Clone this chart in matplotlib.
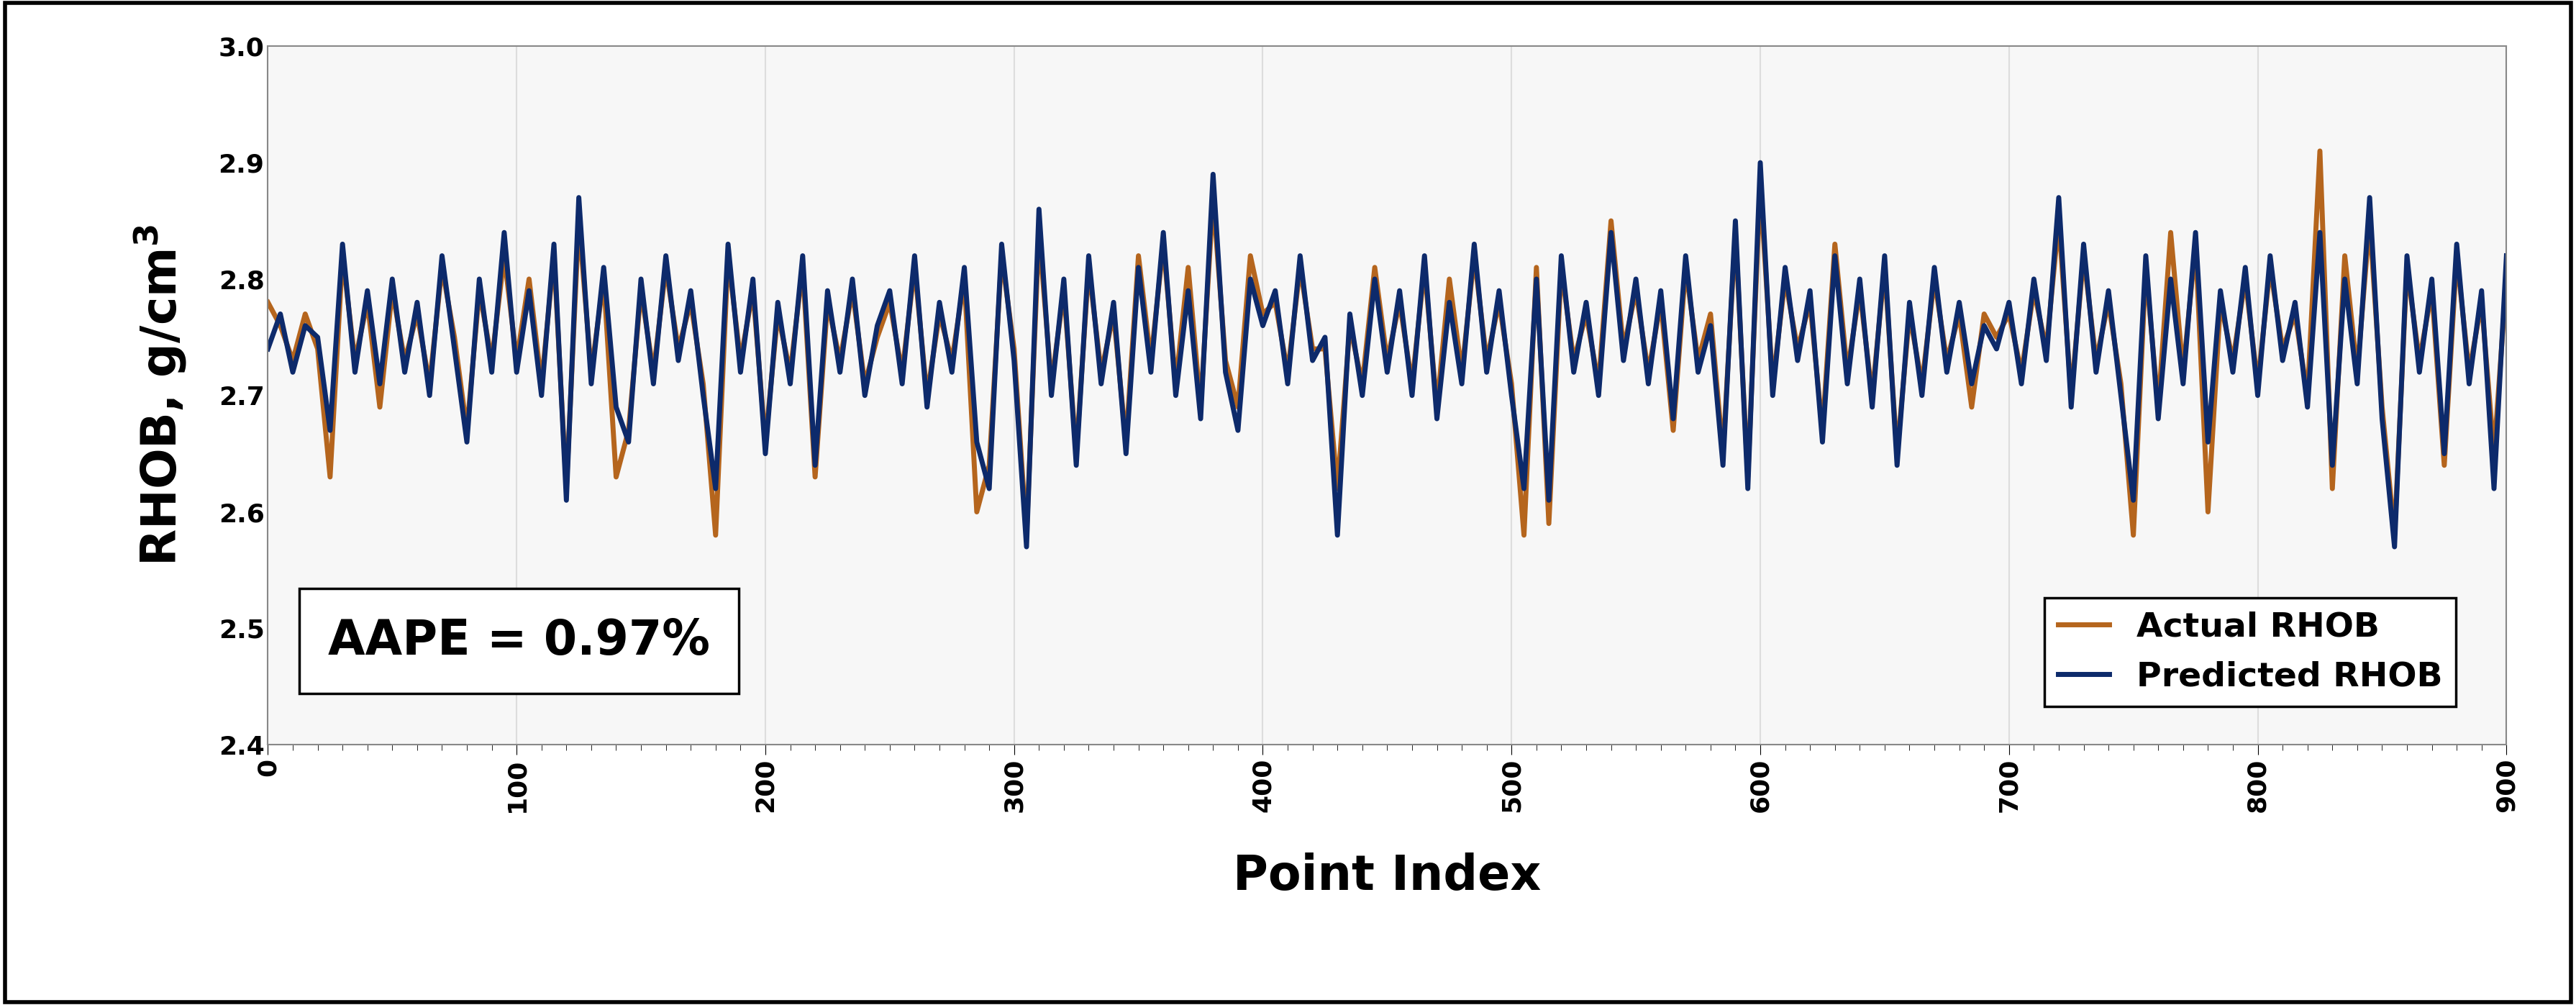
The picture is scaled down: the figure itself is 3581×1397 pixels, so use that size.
import numpy as np
import matplotlib.pyplot as plt

point_index = np.arange(0, 905, 5)

predicted = [
    2.74, 2.77, 2.72, 2.76, 2.75, 2.67, 2.83, 2.72, 2.79, 2.71,
    2.80, 2.72, 2.78, 2.70, 2.82, 2.74, 2.66, 2.80, 2.72, 2.84,
    2.72, 2.79, 2.70, 2.83, 2.61, 2.87, 2.71, 2.81, 2.69, 2.66,
    2.80, 2.71, 2.82, 2.73, 2.79, 2.70, 2.62, 2.83, 2.72, 2.80,
    2.65, 2.78, 2.71, 2.82, 2.64, 2.79, 2.72, 2.80, 2.70, 2.76,
    2.79, 2.71, 2.82, 2.69, 2.78, 2.72, 2.81, 2.66, 2.62, 2.83,
    2.73, 2.57, 2.86, 2.70, 2.80, 2.64, 2.82, 2.71, 2.78, 2.65,
    2.81, 2.72, 2.84, 2.70, 2.79, 2.68, 2.89, 2.72, 2.67, 2.80,
    2.76, 2.79, 2.71, 2.82, 2.73, 2.75, 2.58, 2.77, 2.70, 2.80,
    2.72, 2.79, 2.70, 2.82, 2.68, 2.78, 2.71, 2.83, 2.72, 2.79,
    2.70, 2.62, 2.80, 2.61, 2.82, 2.72, 2.78, 2.70, 2.84, 2.73,
    2.80, 2.71, 2.79, 2.68, 2.82, 2.72, 2.76, 2.64, 2.85, 2.62,
    2.90, 2.70, 2.81, 2.73, 2.79, 2.66, 2.82, 2.71, 2.80, 2.69,
    2.82, 2.64, 2.78, 2.70, 2.81, 2.72, 2.78, 2.71, 2.76, 2.74,
    2.78, 2.71, 2.80, 2.73, 2.87, 2.69, 2.83, 2.72, 2.79, 2.70,
    2.61, 2.82, 2.68, 2.80, 2.71, 2.84, 2.66, 2.79, 2.72, 2.81,
    2.70, 2.82, 2.73, 2.78, 2.69, 2.84, 2.64, 2.80, 2.71, 2.87,
    2.68, 2.57, 2.82, 2.72, 2.80, 2.65, 2.83, 2.71, 2.79, 2.62,
    2.82,
]

actual = [
    2.78, 2.76, 2.73, 2.77, 2.74, 2.63, 2.82, 2.73, 2.78, 2.69,
    2.79, 2.73, 2.77, 2.71, 2.81, 2.75, 2.67, 2.79, 2.73, 2.82,
    2.73, 2.80, 2.71, 2.82, 2.62, 2.85, 2.72, 2.80, 2.63, 2.67,
    2.79, 2.72, 2.81, 2.74, 2.78, 2.71, 2.58, 2.82, 2.73, 2.79,
    2.66, 2.77, 2.72, 2.81, 2.63, 2.78, 2.73, 2.79, 2.71, 2.75,
    2.78, 2.72, 2.81, 2.70, 2.77, 2.73, 2.80, 2.60, 2.64, 2.82,
    2.74, 2.58, 2.84, 2.71, 2.79, 2.65, 2.81, 2.72, 2.77, 2.66,
    2.82, 2.73, 2.83, 2.71, 2.81, 2.69, 2.87, 2.73, 2.69, 2.82,
    2.77, 2.78, 2.72, 2.81, 2.74, 2.74, 2.62, 2.76, 2.71, 2.81,
    2.73, 2.78, 2.71, 2.81, 2.69, 2.80, 2.72, 2.82, 2.73, 2.78,
    2.71, 2.58, 2.81, 2.59, 2.81, 2.73, 2.77, 2.71, 2.85, 2.74,
    2.79, 2.72, 2.78, 2.67, 2.81, 2.73, 2.77, 2.65, 2.84, 2.63,
    2.88, 2.71, 2.80, 2.74, 2.78, 2.67, 2.83, 2.72, 2.79, 2.70,
    2.81, 2.65, 2.77, 2.71, 2.80, 2.73, 2.77, 2.69, 2.77, 2.75,
    2.77, 2.72, 2.79, 2.74, 2.85, 2.70, 2.82, 2.73, 2.78, 2.71,
    2.58, 2.81, 2.69, 2.84, 2.72, 2.83, 2.60, 2.78, 2.73, 2.80,
    2.71, 2.81, 2.74, 2.77, 2.70, 2.91, 2.62, 2.82, 2.72, 2.85,
    2.69, 2.58, 2.81, 2.73, 2.79, 2.64, 2.82, 2.72, 2.78, 2.65,
    2.80,
]

fig = plt.figure(figsize=(35.81, 13.97), dpi=100)
ax = fig.add_axes([0.104, 0.259, 0.869, 0.695])
ax.set_facecolor('#f7f7f7')

ax.plot(point_index, actual, color='#b5651d', lw=5, label='Actual RHOB')
ax.plot(point_index, predicted, color='#0d2a6b', lw=5, label='Predicted RHOB')

ax.set_xlim(0, 900)
ax.set_ylim(2.4, 3.0)
ax.set_xticks(np.arange(0, 1000, 100))
ax.set_xticks(np.arange(0, 910, 10), minor=True)
ax.set_yticks(np.arange(2.4, 3.01, 0.1))
ax.set_yticklabels([f'{v:.1f}' for v in np.arange(2.4, 3.01, 0.1)])
ax.grid(axis='x', which='major', color='#dddddd', lw=1.5)
ax.tick_params(axis='x', which='major', labelrotation=90, length=10, labelsize=26)
ax.tick_params(axis='x', which='minor', length=6)
ax.tick_params(axis='y', labelsize=26, length=0)
for lbl in ax.get_xticklabels() + ax.get_yticklabels():
    lbl.set_fontweight('bold')
for s in ax.spines.values():
    s.set_color('#888888')
    s.set_linewidth(1.5)

ax.set_xlabel('Point Index', fontsize=48, fontweight='bold', labelpad=40)
ax.set_ylabel('RHOB, g/cm$^\\mathbf{3}$', fontsize=48, fontweight='bold', labelpad=30)

ax.text(0.027, 0.115, 'AAPE = 0.97%', transform=ax.transAxes, fontsize=48,
        fontweight='bold', va='bottom',
        bbox=dict(boxstyle='square,pad=0.6', fc='white', ec='black', lw=2.5))

leg = ax.legend(loc='lower right', bbox_to_anchor=(0.985, 0.03), fontsize=34,
                fancybox=False, edgecolor='black', framealpha=1, handlelength=1.5,
                prop={'weight': 'bold', 'size': 34})
leg.get_frame().set_linewidth(2.5)

fig.add_artist(plt.Rectangle((0.002, 0.003), 0.996, 0.994, transform=fig.transFigure,
                             fill=False, ec='black', lw=4))

fig.savefig('out.png', dpi=100)
